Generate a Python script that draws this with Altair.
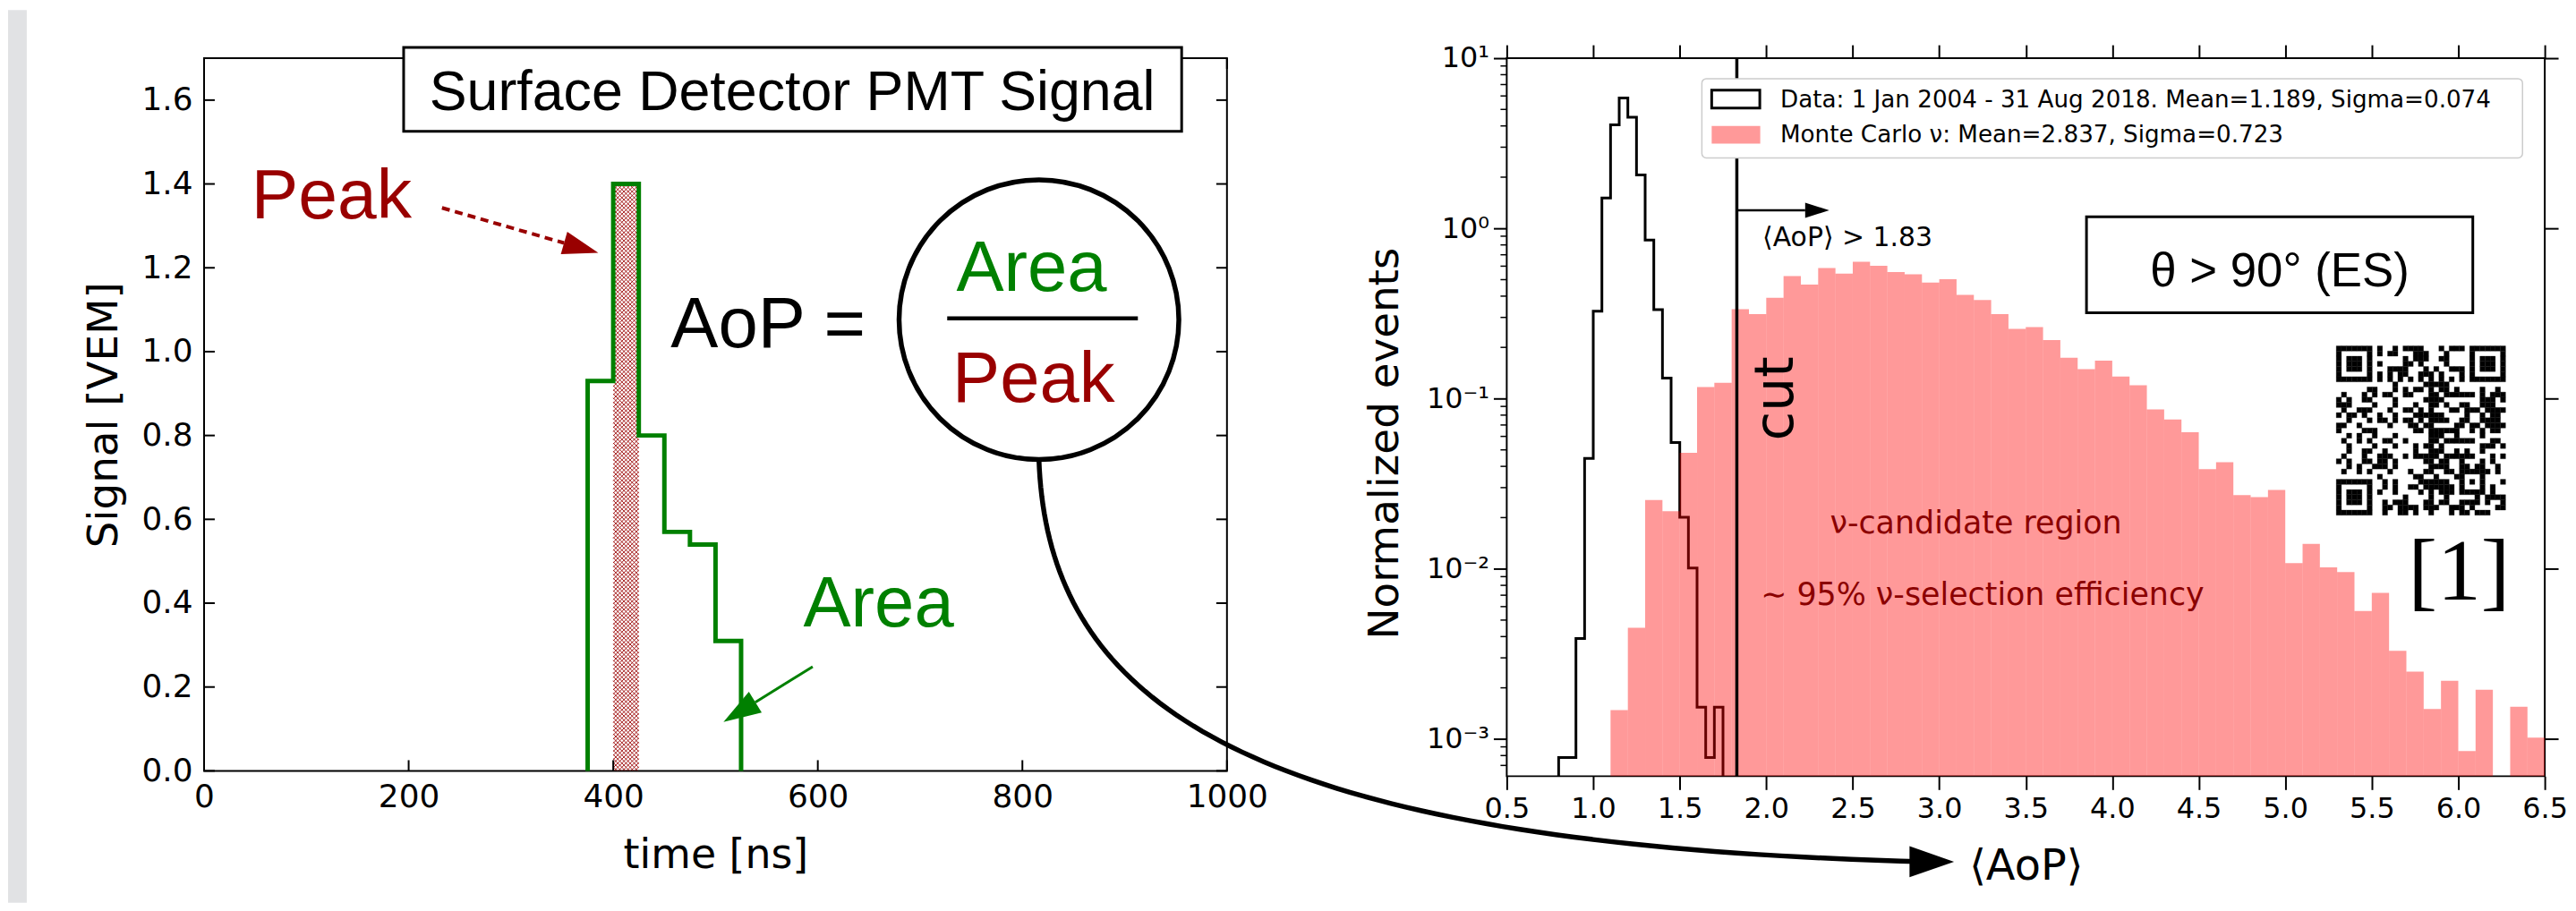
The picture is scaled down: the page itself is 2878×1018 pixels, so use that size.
import math
import pandas as pd
import altair as alt

# ---------------- Left panel: PMT trace (25 ns bins) ----------------
trace_time = [375, 375, 400, 425, 450, 475, 500, 525]
trace_signal = [0.0, 0.93, 1.40, 0.80, 0.57, 0.54, 0.31, 0.0]
peak_start, peak_end, peak_height = 400, 425, 1.40
left_xticks = [0, 200, 400, 600, 800, 1000]
left_yticks = [0.0, 0.2, 0.4, 0.6, 0.8, 1.0, 1.2, 1.4, 1.6]

# ---------------- Right panel: <AoP> histograms ----------------
data_bin_lo = [0.80, 0.85, 0.90, 0.95, 1.00, 1.05, 1.10, 1.15, 1.20, 1.25,
               1.30, 1.35, 1.40, 1.45, 1.50, 1.55, 1.60, 1.65, 1.70]
data_norm = [7.8e-4, 7.8e-4, 3.9e-3, 0.0446, 0.326, 1.51, 4.06, 5.83, 4.50, 2.06,
             0.855, 0.333, 0.132, 0.0552, 0.0201, 0.0101, 1.54e-3, 7.8e-4, 1.54e-3]
data_last_edge = 1.75

mc_bin_lo = [1.1, 1.2, 1.3, 1.4, 1.5, 1.6, 1.7, 1.8, 1.9,
             2.0, 2.1, 2.2, 2.3, 2.4, 2.5, 2.6, 2.7, 2.8, 2.9,
             3.0, 3.1, 3.2, 3.3, 3.4, 3.5, 3.6, 3.7, 3.8, 3.9,
             4.0, 4.1, 4.2, 4.3, 4.4, 4.5, 4.6, 4.7, 4.8, 4.9,
             5.0, 5.1, 5.2, 5.3, 5.4, 5.5, 5.6, 5.7, 5.8, 5.9,
             6.0, 6.1, 6.2, 6.3, 6.4]
mc_norm = [0.00148, 0.0045, 0.0254, 0.0218, 0.048, 0.117, 0.124, 0.335, 0.314,
           0.391, 0.524, 0.468, 0.586, 0.543, 0.636, 0.603, 0.554, 0.538, 0.481,
           0.503, 0.407, 0.380, 0.314, 0.257, 0.263, 0.221, 0.174, 0.149, 0.167,
           0.135, 0.120, 0.0865, 0.0755, 0.0635, 0.0385, 0.0423, 0.0271, 0.0264, 0.0291,
           0.0108, 0.0140, 0.0102, 0.00957, 0.00565, 0.00722, 0.00330, 0.00249, 0.00150, 0.00220,
           0.00085, 0.00195, 0.0, 0.00155, 0.00102]
mc_last_edge = 6.5
cut_value = 1.83
right_xticks = [0.5, 1.0, 1.5, 2.0, 2.5, 3.0, 3.5, 4.0, 4.5, 5.0, 5.5, 6.0, 6.5]
right_yticks = [1e-3, 1e-2, 1e-1, 1.0, 10.0]

legend_data = "Data: 1 Jan 2004 - 31 Aug 2018. Mean=1.189, Sigma=0.074"
legend_mc = "Monte Carlo \u03bd: Mean=2.837, Sigma=0.723"

# ---------------- layout ----------------
W1, H1 = 1148, 800
W2, H2 = 1165, 806
GAP = 314
YMIN2, YMAX2 = 6.05e-4, 10.0
FLOOR = 1e-5
LOGSPAN = math.log10(YMAX2) - math.log10(YMIN2)

SANS = "DejaVu Sans"
ARIAL = "Liberation Sans"
DARKRED = "#990000"
GREEN = "#008000"

xs_l = alt.Scale(domain=[0, 1000], nice=False, zero=False)
ys_l = alt.Scale(domain=[0, 1.7], nice=False, zero=False)
xs_r = alt.Scale(domain=[0.5, 6.5], nice=False, zero=False)
ys_r = alt.Scale(type="log", domain=[YMIN2, YMAX2], nice=False)

one = pd.DataFrame({"a": [0]})


def rx(px):  # right panel: plot pixel -> data x
    return 0.5 + px / W2 * 6.0


def ry(py):  # right panel: plot pixel -> data y (log)
    return 10 ** (math.log10(YMAX2) - py / H2 * LOGSPAN)


def text_l(x, y, s, **mk):
    return alt.Chart(pd.DataFrame({"x": [x], "y": [y], "s": [s]})).mark_text(**mk).encode(
        x=alt.X("x:Q", scale=xs_l, axis=None), y=alt.Y("y:Q", scale=ys_l, axis=None), text="s:N")


def text_r(x, y, s, **mk):
    return alt.Chart(pd.DataFrame({"x": [x], "y": [y], "s": [s]})).mark_text(**mk).encode(
        x=alt.X("x:Q", scale=xs_r, axis=None), y=alt.Y("y:Q", scale=ys_r, axis=None), text="s:N")


def seg_l(x1, y1, x2, y2, **mk):
    return alt.Chart(pd.DataFrame({"x": [x1], "y": [y1], "x2": [x2], "y2": [y2]})).mark_rule(**mk).encode(
        x=alt.X("x:Q", scale=xs_l, axis=None), y=alt.Y("y:Q", scale=ys_l, axis=None), x2="x2:Q", y2="y2:Q")


def head_l(x, y, size, angle, color, path):
    return alt.Chart(pd.DataFrame({"x": [x], "y": [y]})).mark_point(
        shape=path, filled=True, fill=color, color=color, strokeWidth=0, size=size, angle=angle, opacity=1
    ).encode(x=alt.X("x:Q", scale=xs_l, axis=None), y=alt.Y("y:Q", scale=ys_l, axis=None))


# ======================= LEFT PANEL =======================
stripe = alt.Chart(one).mark_rect(color="#e1e2e4").encode(
    x=alt.value(-220), x2=alt.value(-199), y=alt.value(-54), y2=alt.value(948))

# cross hatch of the peak bin
ppx = W1 / 1000.0
ppy = H1 / 1.7
hw = (peak_end - peak_start) * ppx
hh = peak_height * ppy
sp = 4.6
hx, hy, hx2, hy2 = [], [], [], []
c = -hw
while c <= hh:
    a0, a1 = max(0.0, -c), min(hw, hh - c)
    if a1 > a0:
        hx.append(a0); hy.append(a0 + c); hx2.append(a1); hy2.append(a1 + c)
    c += sp
c = 0.0
while c <= hh + hw:
    a0, a1 = max(0.0, c - hh), min(hw, c)
    if a1 > a0:
        hx.append(a0); hy.append(c - a0); hx2.append(a1); hy2.append(c - a1)
    c += sp
hatch_df = pd.DataFrame({
    "x": [peak_start + v / ppx for v in hx], "y": [v / ppy for v in hy],
    "x2": [peak_start + v / ppx for v in hx2], "y2": [v / ppy for v in hy2]})
hatch = alt.Chart(hatch_df).mark_rule(color=DARKRED, strokeWidth=0.9, clip=True).encode(
    x=alt.X("x:Q", scale=xs_l, axis=None), y=alt.Y("y:Q", scale=ys_l, axis=None), x2="x2:Q", y2="y2:Q")

trace_df = pd.DataFrame({"t": trace_time, "s": trace_signal, "i": list(range(len(trace_time)))})
trace = alt.Chart(trace_df).mark_line(
    interpolate="step-after", color=GREEN, strokeWidth=5, strokeJoin="miter").encode(
    x=alt.X("t:Q", scale=xs_l, axis=alt.Axis(
        orient="bottom", values=left_xticks, format="d", ticks=False, labelFontSize=36, labelPadding=12,
        labelFlush=False, labelOverlap=False, title="time [ns]", titleFontSize=46, titlePadding=26)),
    y=alt.Y("s:Q", scale=ys_l, axis=alt.Axis(
        orient="left", values=left_yticks, format=".1f", ticks=False, labelFontSize=36, labelPadding=13,
        labelFlush=False, labelOverlap=False, title="Signal [VEM]", titleFontSize=47, titlePadding=18)),
    order="i:Q")

xt_df = pd.DataFrame({"v": left_xticks})
yt_df = pd.DataFrame({"v": left_yticks})
tick_b = alt.Chart(xt_df).mark_rule(color="black", strokeWidth=2).encode(
    x=alt.X("v:Q", scale=xs_l, axis=None), y=alt.value(H1), y2=alt.value(H1 - 12))
tick_t = alt.Chart(xt_df).mark_rule(color="black", strokeWidth=2).encode(
    x=alt.X("v:Q", scale=xs_l, axis=None), y=alt.value(0), y2=alt.value(12))
tick_lf = alt.Chart(yt_df).mark_rule(color="black", strokeWidth=2).encode(
    y=alt.Y("v:Q", scale=ys_l, axis=None), x=alt.value(0), x2=alt.value(12))
tick_rt = alt.Chart(yt_df).mark_rule(color="black", strokeWidth=2).encode(
    y=alt.Y("v:Q", scale=ys_l, axis=None), x=alt.value(W1), x2=alt.value(W1 - 12))

title_box = alt.Chart(pd.DataFrame({"x": [195.1], "x2": [955.7], "y": [1.7255], "y2": [1.5257]})).mark_rect(
    fill="white", stroke="black", strokeWidth=3).encode(
    x=alt.X("x:Q", scale=xs_l, axis=None), x2="x2:Q", y=alt.Y("y:Q", scale=ys_l, axis=None), y2="y2:Q")
title_txt = text_l(575, 1.5767, "Surface Detector PMT Signal", font=ARIAL, fontSize=63,
                   align="center", baseline="alphabetic", color="black")

peak_lbl = text_l(124.6, 1.3185, "Peak", font=ARIAL, fontSize=79, align="center",
                  baseline="alphabetic", color=DARKRED)
peak_arrow = seg_l(232.6, 1.343, 351.9, 1.2592, color=DARKRED, strokeWidth=4, strokeDash=[9, 6])
peak_head = head_l(385.4, 1.2357, 1600, 16.1, DARKRED, "M0,0L-2,-0.65L-2,0.65Z")

aop_lbl = text_l(551.4, 1.0106, "AoP =", font=ARIAL, fontSize=80, align="center",
                 baseline="alphabetic", color="black")
circle = alt.Chart(pd.DataFrame({"x": [816.2], "y": [1.0763]})).mark_point(
    shape="circle", filled=False, color="black", strokeWidth=5.5, size=314 * 314, opacity=1).encode(
    x=alt.X("x:Q", scale=xs_l, axis=None), y=alt.Y("y:Q", scale=ys_l, axis=None))
frac = seg_l(726.5, 1.0795, 912.9, 1.0795, color="black", strokeWidth=4.5)
frac_area = text_l(809, 1.146, "Area", font=ARIAL, fontSize=80, align="center",
                   baseline="alphabetic", color=GREEN)
frac_peak = text_l(811, 0.8797, "Peak", font=ARIAL, fontSize=80, align="center",
                   baseline="alphabetic", color=DARKRED)

area_lbl = text_l(659.4, 0.3442, "Area", font=ARIAL, fontSize=80, align="center",
                  baseline="alphabetic", color=GREEN)
area_arrow = seg_l(595, 0.2486, 538.9, 0.1638, color=GREEN, strokeWidth=3)
area_head = head_l(507.8, 0.1169, 1764, 148.2, GREEN, "M0,0L-2,-0.65L-2,0.65Z")

# big curved arrow from the circle towards the <AoP> axis (cubic Bezier)
P = [(816.2, 0.7416), (825.0, 0.1530), (1020.9, -0.1764), (1683.0, -0.2167)]
cx, cy, ci = [], [], []
nseg = 80
for k in range(nseg + 1):
    t = k / nseg
    b = [(1 - t) ** 3, 3 * (1 - t) ** 2 * t, 3 * (1 - t) * t ** 2, t ** 3]
    cx.append(sum(b[j] * P[j][0] for j in range(4)))
    cy.append(sum(b[j] * P[j][1] for j in range(4)))
    ci.append(k)
curve = alt.Chart(pd.DataFrame({"x": cx, "y": cy, "i": ci})).mark_line(
    color="black", strokeWidth=5.5, strokeCap="round").encode(
    x=alt.X("x:Q", scale=xs_l, axis=None), y=alt.Y("y:Q", scale=ys_l, axis=None), order="i:Q")
curve_head = head_l(1710.8, -0.2167, 2500, 0, "black", "M0,0L-2,-0.7L-2,0.7Z")

left = alt.layer(
    stripe, hatch, trace, tick_b, tick_t, tick_lf, tick_rt,
    title_box, title_txt, peak_lbl, peak_arrow, peak_head,
    aop_lbl, circle, frac, frac_area, frac_peak, area_lbl, area_arrow, area_head,
    curve, curve_head
).properties(width=W1, height=H1).resolve_axis(x="independent", y="independent")

# ======================= RIGHT PANEL =======================
line_x = [data_bin_lo[0]] + data_bin_lo + [data_last_edge]
line_v = [FLOOR] + data_norm + [FLOOR]
data_df = pd.DataFrame({"x": line_x, "v": line_v, "i": list(range(len(line_x)))})
sup = "datum.value >= 5 ? '10\u00b9' : datum.value >= 0.5 ? '10\u2070' : datum.value >= 0.05 ? '10\u207b\u00b9' : datum.value >= 0.005 ? '10\u207b\u00b2' : '10\u207b\u00b3'"
data_line = alt.Chart(data_df).mark_line(
    interpolate="step-after", color="black", strokeWidth=3, clip=True, strokeJoin="miter").encode(
    x=alt.X("x:Q", scale=xs_r, axis=alt.Axis(
        orient="bottom", values=right_xticks, format=".1f", tickSize=15, tickWidth=2,
        labelFontSize=32, labelPadding=6, labelFlush=False, labelOverlap=False,
        title="\u27e8AoP\u27e9", titleFontSize=48, titlePadding=26)),
    y=alt.Y("v:Q", scale=ys_r, axis=alt.Axis(
        orient="left", values=right_yticks, labelExpr=sup, tickSize=15, tickWidth=2,
        labelFontSize=32, labelPadding=5, labelFlush=False, labelOverlap=False,
        title="Normalized events", titleFontSize=47, titlePadding=22, titleY=432)),
    order="i:Q")

mc_bin_hi = mc_bin_lo[1:] + [mc_last_edge]
mc_df = pd.DataFrame({"x": mc_bin_lo, "x2": mc_bin_hi,
                      "v": [v if v > 0 else FLOOR for v in mc_norm]})
mc_bars = alt.Chart(mc_df).mark_rect(color="red", opacity=0.4, clip=True).encode(
    x=alt.X("x:Q", scale=xs_r, axis=None), x2="x2:Q",
    y=alt.Y("v:Q", scale=ys_r, axis=None), y2=alt.value(H2))

axes2 = alt.Chart(pd.DataFrame({"x": [3.0], "v": [1.0]})).mark_point(opacity=0).encode(
    x=alt.X("x:Q", scale=xs_r, axis=alt.Axis(orient="top", values=right_xticks, labels=False,
                                             tickSize=15, tickWidth=2, title=None)),
    y=alt.Y("v:Q", scale=ys_r, axis=alt.Axis(orient="right", values=right_yticks, labels=False,
                                             tickSize=15, tickWidth=2, title=None)))

minor_vals = [m * 10.0 ** e for e in range(-4, 1) for m in range(2, 10) if YMIN2 <= m * 10.0 ** e <= YMAX2]
minor = alt.Chart(pd.DataFrame({"v": minor_vals})).mark_rule(color="black", strokeWidth=1.5).encode(
    y=alt.Y("v:Q", scale=ys_r, axis=None), x=alt.value(0), x2=alt.value(-7))

cut_rule = alt.Chart(pd.DataFrame({"x": [cut_value]})).mark_rule(color="black", strokeWidth=3.5).encode(
    x=alt.X("x:Q", scale=xs_r, axis=None), y=alt.value(0), y2=alt.value(H2))
cut_arrow = alt.Chart(pd.DataFrame({"x": [cut_value], "x2": [2.225], "y": [1.277]})).mark_rule(
    color="black", strokeWidth=2.5).encode(
    x=alt.X("x:Q", scale=xs_r, axis=None), x2="x2:Q", y=alt.Y("y:Q", scale=ys_r, axis=None))
cut_head = alt.Chart(pd.DataFrame({"x": [2.364], "y": [1.277]})).mark_point(
    shape="M0,0L-2,-0.63L-2,0.63Z", filled=True, fill="black", color="black", strokeWidth=0,
    size=729, opacity=1).encode(
    x=alt.X("x:Q", scale=xs_r, axis=None), y=alt.Y("y:Q", scale=ys_r, axis=None))
cut_txt = text_r(1.978, 0.789, "\u27e8AoP\u27e9 > 1.83", font=SANS, fontSize=30, align="left",
                 baseline="alphabetic", color="black")
cut_word = text_r(2.152, 0.1, "cut", font=SANS, fontSize=60, align="center", baseline="alphabetic",
                  angle=270, color="black")
region_txt = text_r(2.368, 0.0162, "\u03bd-candidate region", font=SANS, fontSize=35, align="left",
                    baseline="alphabetic", color="#8b0000")
eff_txt = text_r(1.968, 0.0061, "\u223c 95% \u03bd-selection efficiency", font=SANS, fontSize=35,
                 align="left", baseline="alphabetic", color="#8b0000")

theta_box = alt.Chart(pd.DataFrame({"x": [3.851], "x2": [6.084], "y": [1.170], "y2": [0.3192]})).mark_rect(
    fill="white", stroke="black", strokeWidth=3).encode(
    x=alt.X("x:Q", scale=xs_r, axis=None), x2="x2:Q", y=alt.Y("y:Q", scale=ys_r, axis=None), y2="y2:Q")
theta_txt = text_r(4.968, 0.4584, "\u03b8 > 90\u00b0 (ES)", font=ARIAL, fontSize=53, align="center",
                   baseline="alphabetic", color="black")
ref_txt = text_r(6.005, 0.00656, "[1]", font="Liberation Serif", fontSize=98, align="center",
                 baseline="alphabetic", color="black")

# legend (drawn in plot-pixel coordinates)
leg_box = alt.Chart(one).mark_rect(fill="white", stroke="#cccccc", strokeWidth=1.5, cornerRadius=5).encode(
    x=alt.value(219), x2=alt.value(1140), y=alt.value(23), y2=alt.value(112))
leg_h1 = alt.Chart(one).mark_rect(fill="white", stroke="black", strokeWidth=3).encode(
    x=alt.value(230), x2=alt.value(284), y=alt.value(36), y2=alt.value(56))
leg_h2 = alt.Chart(one).mark_rect(color="red", opacity=0.4).encode(
    x=alt.value(230), x2=alt.value(284.5), y=alt.value(76), y2=alt.value(96))
leg_t1 = alt.Chart(one).mark_text(font=SANS, fontSize=26.3, align="left", baseline="alphabetic",
                                  color="black").encode(
    x=alt.value(307), y=alt.value(55), text=alt.value(legend_data))
leg_t2 = alt.Chart(one).mark_text(font=SANS, fontSize=26.3, align="left", baseline="alphabetic",
                                  color="black").encode(
    x=alt.value(307), y=alt.value(94.5), text=alt.value(legend_mc))

# QR-code like badge
QN = 33
qr = [[None] * QN for _ in range(QN)]


def finder(r0, c0):
    for dr in range(-1, 8):
        for dc in range(-1, 8):
            r, cc = r0 + dr, c0 + dc
            if 0 <= r < QN and 0 <= cc < QN:
                d = max(abs(dr - 3), abs(dc - 3))
                qr[r][cc] = 1 if d in (0, 1, 3) else 0


finder(0, 0)
finder(0, QN - 7)
finder(QN - 7, 0)
for k in range(8, QN - 8):
    qr[6][k] = 1 - k % 2
    qr[k][6] = 1 - k % 2
for dr in range(-2, 3):
    for dc in range(-2, 3):
        qr[26 + dr][26 + dc] = 0 if max(abs(dr), abs(dc)) == 1 else 1
payload = "https://www.auger.org Pierre Auger Observatory - neutrino search with the Area-over-Peak of SD traces, 2004-2018"
bits = "".join(f"{b:08b}" for b in payload.encode())
k = 0
for r in range(QN):
    for cc in range(QN):
        if qr[r][cc] is None:
            bit = int(bits[k % len(bits)])
            k += 1
            qr[r][cc] = bit ^ (1 if (r * cc) % 3 == 0 or (r + cc) % 2 == 0 and (r * cc) % 5 == 1 else 0)
QX0, QY0, QS = 931.0, 323.0, 190.0 / QN
qx, qx2, qy, qy2 = [], [], [], []
for r in range(QN):
    for cc in range(QN):
        if qr[r][cc]:
            qx.append(rx(QX0 + cc * QS)); qx2.append(rx(QX0 + (cc + 1) * QS))
            qy.append(ry(QY0 + r * QS)); qy2.append(ry(QY0 + (r + 1) * QS))
qr_layer = alt.Chart(pd.DataFrame({"x": qx, "x2": qx2, "y": qy, "y2": qy2})).mark_rect(
    color="black", stroke="black", strokeWidth=0.3).encode(
    x=alt.X("x:Q", scale=xs_r, axis=None), x2="x2:Q", y=alt.Y("y:Q", scale=ys_r, axis=None), y2="y2:Q")

right = alt.layer(
    data_line, mc_bars, minor, cut_rule, cut_arrow, cut_head, cut_txt, cut_word,
    region_txt, eff_txt, theta_box, theta_txt, qr_layer, ref_txt,
    leg_box, leg_h1, leg_h2, leg_t1, leg_t2, axes2
).properties(width=W2, height=H2).resolve_axis(x="independent", y="independent")

chart = alt.hconcat(left, right, spacing=GAP, bounds="flush").properties(
    padding=0, background="white"
).configure_view(stroke="black", strokeWidth=2).configure_axis(
    domain=False, grid=False, labelFont=SANS, titleFont=SANS, titleFontWeight="normal",
    labelColor="black", titleColor="black", tickColor="black"
)

chart.save("out.html", embed_options={"renderer": "svg", "actions": False})
